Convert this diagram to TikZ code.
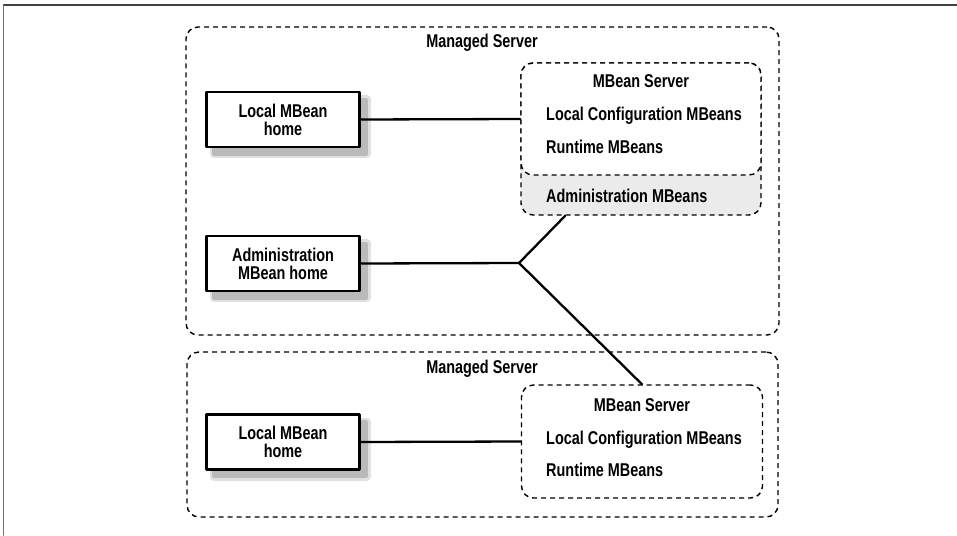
\documentclass[tikz,border=0pt]{standalone}
\usepackage{fontspec}
\setmainfont{Liberation Sans}[FakeStretch=0.78]
\usetikzlibrary{calc}

\begin{document}
\begin{tikzpicture}[x=1pt,y=-1pt,line cap=round,line join=round,
  every node/.style={font=\fontsize{18.5}{18}\selectfont\bfseries,inner sep=0pt},
  msbox/.style={draw,line width=1.4pt,line cap=butt,dash pattern=on 5pt off 4pt,rounded corners=12pt},
  homebox/.style={draw,line width=2.8pt,line cap=butt,fill=white,align=center,minimum width=153pt,minimum height=55pt,
    preaction={draw=black!12,fill=black!12,line width=8pt,transform canvas={xshift=7pt,yshift=-7pt}},
    preaction={draw=black!27,fill=black!27,line width=3pt,transform canvas={xshift=7pt,yshift=-7pt}}},
  wire/.style={line width=2.3pt}]
\path[use as bounding box] (0,0) rectangle (957,535);
\draw[black!75,line width=1.8pt] (3.5,5) -- (957,5);
\draw[black!55,line width=1.6pt] (3.5,5) -- (3.5,535);
\node[msbox,minimum width=593pt,minimum height=308pt] (ms1) at (482.5,181) {};
\node[anchor=base] (ms1t) at (482,48) {Managed Server};
\node[msbox,fill=black!8,minimum width=240pt,minimum height=152pt] (adm1) at (641,139) {};
\node[msbox,fill=white,minimum width=240pt,minimum height=112pt] (srv1) at (641,119) {};
\node[anchor=base] (srv1t) at (641,87) {MBean Server};
\node[anchor=base west] (srv1a) at (546,120) {Local Configuration MBeans};
\node[anchor=base west] (srv1b) at (546,153) {Runtime MBeans};
\node[anchor=base west] (adm1a) at (546,202) {Administration MBeans};
\node[homebox] (loc1) at (283,119.5) {Local MBean\\home};
\node[homebox] (admh) at (283,263.5) {Administration\\MBean home};
\node[msbox,minimum width=591pt,minimum height=165pt] (ms2) at (482.5,434.5) {};
\node[anchor=base] (ms2t) at (482,373) {Managed Server};
\node[msbox,fill=white,minimum width=241pt,minimum height=113pt] (srv2) at (642,441.5) {};
\node[anchor=base] (srv2t) at (642,411) {MBean Server};
\node[anchor=base west] (srv2a) at (546,444) {Local Configuration MBeans};
\node[anchor=base west] (srv2b) at (546,476) {Runtime MBeans};
\node[homebox] (loc2) at (283,442) {Local MBean\\home};
\coordinate (fork) at (519,263);
\draw[wire] (loc1.east) -- (srv1.west);
\draw[wire] (admh.east) -- (fork);
\draw[wire] ($(adm1.south west)+(45,0)$) -- (fork) -- (srv2.north);
\draw[wire] (loc2.east) -- (srv2.west);
\end{tikzpicture}
\end{document}
